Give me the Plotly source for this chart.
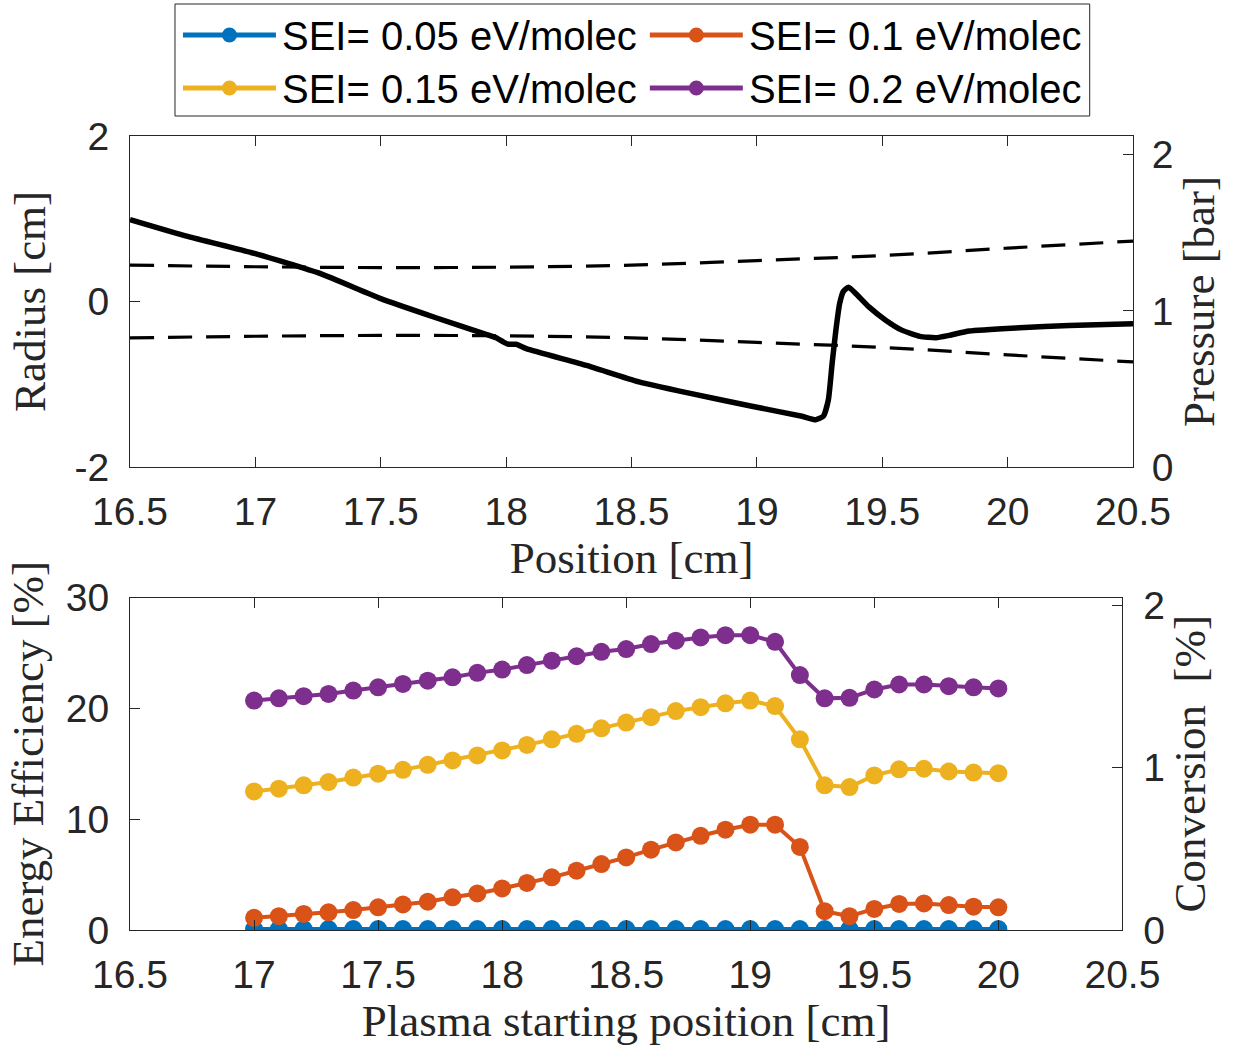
import plotly.graph_objects as go

# ---------------- data ----------------
# top panel: pressure along the nozzle (right axis, bar)
pressure_x = [16.5, 16.73, 17.0, 17.26, 17.5, 17.72, 17.92, 17.96, 17.99, 18.01,
              18.04, 18.08, 18.32, 18.53, 18.72, 18.98, 19.18, 19.235, 19.265, 19.285,
              19.30, 19.315, 19.33, 19.345, 19.366, 19.395, 19.448, 19.515, 19.58, 19.65,
              19.714, 19.767, 19.847, 20.047, 20.246, 20.5]
pressure_bar = [1.585, 1.477, 1.366, 1.238, 1.078, 0.956, 0.850, 0.828, 0.800, 0.786,
                0.786, 0.758, 0.651, 0.545, 0.476, 0.389, 0.325, 0.303, 0.325, 0.430,
                0.662, 0.875, 1.046, 1.125, 1.152, 1.110, 1.024, 0.939, 0.875, 0.837,
                0.828, 0.843, 0.871, 0.892, 0.907, 0.918]

# top panel: nozzle wall radius (left axis, cm)
nozzle_x = [16.5, 17.0, 17.5, 18.0, 18.5, 19.0, 19.5, 20.0, 20.5]
nozzle_upper = [0.44, 0.42, 0.41, 0.415, 0.44, 0.495, 0.555, 0.645, 0.73]
nozzle_lower = [-0.44, -0.42, -0.41, -0.415, -0.44, -0.495, -0.555, -0.645, -0.73]

# bottom panel: energy efficiency vs plasma starting position
start_pos = [17.0, 17.1, 17.2, 17.3, 17.4, 17.5, 17.6, 17.7, 17.8, 17.9, 18.0,
             18.1, 18.2, 18.3, 18.4, 18.5, 18.6, 18.7, 18.8, 18.9, 19.0,
             19.1, 19.2, 19.3, 19.4, 19.5, 19.6, 19.7, 19.8, 19.9, 20.0]
ee_sei_005 = [0.08, 0.08, 0.08, 0.08, 0.08, 0.08, 0.08, 0.08, 0.08, 0.08, 0.08,
              0.08, 0.08, 0.08, 0.08, 0.08, 0.08, 0.08, 0.08, 0.08, 0.08,
              0.08, 0.08, 0.08, 0.08, 0.08, 0.08, 0.08, 0.08, 0.08, 0.08]
ee_sei_010 = [1.1, 1.25, 1.45, 1.6, 1.8, 2.05, 2.3, 2.55, 2.95, 3.3, 3.75,
              4.25, 4.75, 5.35, 5.95, 6.55, 7.25, 7.9, 8.5, 9.05, 9.5,
              9.5, 7.5, 1.7, 1.25, 1.9, 2.35, 2.4, 2.25, 2.1, 2.05]
ee_sei_015 = [12.5, 12.75, 13.05, 13.35, 13.75, 14.1, 14.45, 14.9, 15.3, 15.75, 16.2,
              16.7, 17.2, 17.7, 18.2, 18.72, 19.2, 19.75, 20.1, 20.45, 20.7,
              20.2, 17.2, 13.05, 12.9, 13.95, 14.5, 14.55, 14.3, 14.2, 14.15]
ee_sei_020 = [20.7, 20.9, 21.1, 21.3, 21.6, 21.9, 22.2, 22.5, 22.8, 23.2, 23.5,
              23.9, 24.3, 24.7, 25.1, 25.35, 25.8, 26.1, 26.4, 26.6, 26.6,
              26.0, 23.0, 20.9, 20.95, 21.7, 22.15, 22.15, 22.0, 21.9, 21.8]

series_names = ["SEI= 0.05 eV/molec", "SEI= 0.1 eV/molec",
                "SEI= 0.15 eV/molec", "SEI= 0.2 eV/molec"]
series_values = [ee_sei_005, ee_sei_010, ee_sei_015, ee_sei_020]
series_colors = ["#0072BD", "#D95319", "#EDB120", "#7E2F8E"]

x_ticks = [16.5, 17, 17.5, 18, 18.5, 19, 19.5, 20, 20.5]
x_ticktext = ["16.5", "17", "17.5", "18", "18.5", "19", "19.5", "20", "20.5"]

# ---------------- layout geometry (pixels) ----------------
FIG_W, FIG_H = 1239, 1048
ML, MR, MT, MB = 130, 105.7, 136, 118
PW = FIG_W - ML - MR
PH = FIG_H - MT - MB


def px_x(px):
    return (px - ML) / PW


def px_y(py):
    return (FIG_H - MB - py) / PH


AX = "#262626"
TICK_FONT = dict(family="Liberation Sans, Arial, sans-serif", size=39, color=AX)
TITLE_FONT = dict(family="Liberation Serif, Times New Roman, serif", size=45, color=AX)

fig = go.Figure()

# top panel traces
fig.add_trace(go.Scatter(x=nozzle_x, y=nozzle_upper, mode="lines", xaxis="x", yaxis="y",
                         line=dict(color="black", width=3.2, dash="24px,14px", shape="spline"),
                         showlegend=False, hoverinfo="skip"))
fig.add_trace(go.Scatter(x=nozzle_x, y=nozzle_lower, mode="lines", xaxis="x", yaxis="y",
                         line=dict(color="black", width=3.2, dash="24px,14px", shape="spline"),
                         showlegend=False, hoverinfo="skip"))
fig.add_trace(go.Scatter(x=pressure_x, y=pressure_bar, mode="lines", xaxis="x", yaxis="y2",
                         line=dict(color="black", width=5.5, shape="spline", smoothing=0.5),
                         showlegend=False))

# bottom panel traces
for name, vals, col in zip(series_names, series_values, series_colors):
    fig.add_trace(go.Scatter(x=start_pos, y=vals, mode="lines+markers", name=name,
                             xaxis="x2", yaxis="y3",
                             line=dict(color=col, width=4),
                             marker=dict(color=col, size=18),
                             showlegend=False, cliponaxis=True))
# empty trace so the conversion axis is instantiated
fig.add_trace(go.Scatter(x=[], y=[], xaxis="x2", yaxis="y4", showlegend=False))

common_x = dict(range=[16.5, 20.5], tickvals=x_ticks, ticktext=x_ticktext,
                ticks="inside", ticklen=10, tickwidth=1, tickcolor=AX,
                showline=True, linecolor=AX, linewidth=1, mirror="ticks",
                showgrid=False, zeroline=False, tickfont=TICK_FONT,
                ticklabelstandoff=10)
common_y = dict(ticks="inside", ticklen=10, tickwidth=1, tickcolor=AX,
                showline=True, linecolor=AX, linewidth=1,
                showgrid=False, zeroline=False, tickfont=TICK_FONT)

top_dom = [px_y(467), 1.0]
bot_dom = [0.0, px_y(597.5)]

fig.update_layout(
    width=FIG_W, height=FIG_H, autosize=False,
    margin=dict(l=ML, r=MR, t=MT, b=MB, pad=0),
    paper_bgcolor="white", plot_bgcolor="white",
    showlegend=False,
    xaxis=dict(common_x, domain=[0, 1], anchor="y",
               title=dict(text="Position [cm]", font=TITLE_FONT, standoff=6)),
    yaxis=dict(common_y, domain=top_dom, anchor="x", range=[-2, 2],
               tickvals=[-2, 0, 2], ticktext=["-2", "0", "2"], ticklabelstandoff=12,
               title=dict(text="Radius [cm]", font=TITLE_FONT, standoff=14)),
    yaxis2=dict(common_y, overlaying="y", side="right", anchor="x", range=[0, 2.12],
                tickvals=[0, 1, 2], ticktext=["0", "1", "2"], ticklabelstandoff=10,
                title=dict(text="Pressure [bar]", font=TITLE_FONT, standoff=5)),
    xaxis2=dict(common_x, domain=[0, px_x(1122.7)], anchor="y3",
                title=dict(text="Plasma starting position [cm]", font=TITLE_FONT, standoff=6)),
    yaxis3=dict(common_y, domain=bot_dom, anchor="x2", range=[0, 30],
                tickvals=[0, 10, 20, 30], ticktext=["0", "10", "20", "30"], ticklabelstandoff=12,
                title=dict(text="Energy Efficiency [%]", font=TITLE_FONT, standoff=8)),
    yaxis4=dict(common_y, overlaying="y3", side="right", anchor="x2", range=[0, 2.05],
                tickvals=[0, 1, 2], ticktext=["0", "1", "2"], ticklabelstandoff=12,
                title=dict(text="Conversion\u00a0 [%]", font=TITLE_FONT, standoff=4)),
)

# ---------------- legend (drawn as a boxed key above the panels) ----------------
shapes = [dict(type="rect", xref="paper", yref="paper",
               x0=px_x(175), x1=px_x(1090), y0=px_y(116), y1=px_y(4),
               line=dict(color=AX, width=1), fillcolor="white", layer="above")]
annotations = []
legend_slots = [(183, 35), (650, 35), (183, 88), (650, 88)]
for (lx, ly), name, col in zip(legend_slots, series_names, series_colors):
    shapes.append(dict(type="line", xref="paper", yref="paper",
                       x0=px_x(lx), x1=px_x(lx + 93), y0=px_y(ly), y1=px_y(ly),
                       line=dict(color=col, width=5), layer="above"))
    cx = lx + 46.5
    r = 7.5
    shapes.append(dict(type="circle", xref="paper", yref="paper",
                       x0=px_x(cx - r), x1=px_x(cx + r), y0=px_y(ly + r), y1=px_y(ly - r),
                       line=dict(color=col, width=0), fillcolor=col, layer="above"))
    annotations.append(dict(xref="paper", yref="paper", x=px_x(lx + 97), y=px_y(ly + 1),
                            xanchor="left", yanchor="middle", showarrow=False,
                            text=name, font=dict(family="Liberation Sans, Arial, sans-serif",
                                                 size=40, color="black")))

fig.update_layout(shapes=shapes, annotations=annotations)

fig.write_html("out.html")
